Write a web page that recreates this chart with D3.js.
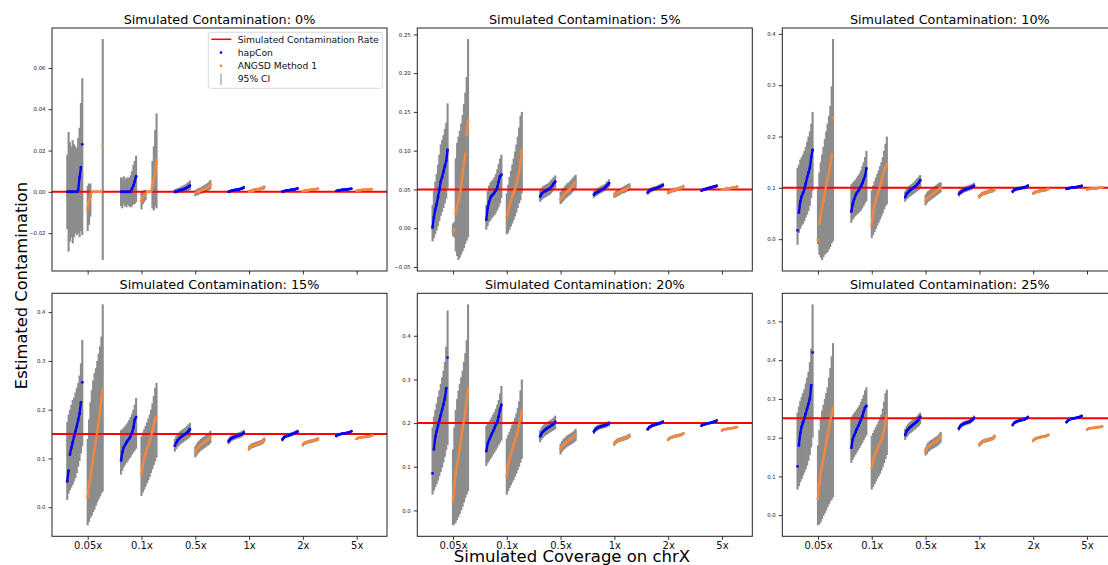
<!DOCTYPE html>
<html><head><meta charset="utf-8">
<script src="https://cdn.jsdelivr.net/npm/d3@7"></script>
<style>body{margin:0;background:#fff;}svg{display:block;}</style>
</head><body><svg id="c" width="1108" height="565"></svg>
<script>
// ---------------- data (values in percent) ----------------
const rates = [0, 5, 10, 15, 20, 25];
const coverages = ["0.05x", "0.1x", "0.5x", "1x", "2x", "5x"];
const yTicks = [
  [-0.02, 0, 0.02, 0.04, 0.06],
  [-0.05, 0, 0.05, 0.10, 0.15, 0.20, 0.25],
  [0, 0.1, 0.2, 0.3, 0.4],
  [0, 0.1, 0.2, 0.3, 0.4],
  [0, 0.1, 0.2, 0.3, 0.4],
  [0, 0.1, 0.2, 0.3, 0.4, 0.5]
];
const yTickLabels = [
  ["\u22120.02", "0.00", "0.02", "0.04", "0.06"],
  ["\u22120.05", "0.00", "0.05", "0.10", "0.15", "0.20", "0.25"],
  ["0.0", "0.1", "0.2", "0.3", "0.4"],
  ["0.0", "0.1", "0.2", "0.3", "0.4"],
  ["0.0", "0.1", "0.2", "0.3", "0.4"],
  ["0.0", "0.1", "0.2", "0.3", "0.4", "0.5"]
];
const legendLabels = ["Simulated Contamination Rate", "hapCon", "ANGSD Method 1", "95% CI"];

// hapCon estimates [panel][coverage][replicate sorted]
const hapEst = [
 [[0,0,0,0,0,0,0,0,0.1,0.7,1.2,2.3],[0,0,0,0,0,0,0,0,0.15,0.3,0.5,0.75],[0,0.02,0.04,0.06,0.08,0.1,0.12,0.14,0.17,0.2,0.25,0.3],[0,0.03,0.05,0.07,0.08,0.09,0.1,0.11,0.13,0.15,0.17,0.21],[0.01,0.03,0.05,0.06,0.07,0.08,0.09,0.1,0.11,0.12,0.14,0.16],[0.04,0.06,0.07,0.08,0.09,0.1,0.1,0.11,0.12,0.13,0.14,0.15]],
 [[0.1,1.4,2.4,3.1,4.0,5.0,6.0,6.6,7.3,8.0,8.7,10.1],[1.1,2.6,3.4,3.9,4.2,4.4,4.6,4.9,5.3,6.0,6.7,6.9],[4.1,4.4,4.6,4.7,4.8,4.9,5.0,5.1,5.3,5.5,5.8,6.0],[4.3,4.5,4.6,4.7,4.8,4.9,5.0,5.1,5.2,5.4,5.6,5.8],[4.6,4.8,4.9,5.0,5.05,5.1,5.15,5.2,5.3,5.35,5.45,5.55],[4.85,4.95,5.0,5.05,5.1,5.15,5.2,5.25,5.3,5.35,5.4,5.45]],
 [[1.7,5.2,7.3,8.3,9.0,9.8,10.8,12.0,13.0,13.9,16.0,17.4],[5.4,6.8,7.8,8.5,9.0,9.4,9.8,10.3,10.9,11.6,12.3,13.8],[8.2,8.8,9.1,9.4,9.6,9.8,10.0,10.2,10.4,10.7,11.0,11.5],[8.8,9.1,9.3,9.5,9.6,9.7,9.8,9.9,10.0,10.1,10.25,10.4],[9.3,9.6,9.7,9.8,9.85,9.9,9.95,10.0,10.05,10.1,10.2,10.4],[9.8,9.9,9.95,10.0,10.05,10.1,10.1,10.15,10.2,10.25,10.3,10.4]],
 [[5.3,7.5,10.8,12.2,13.3,14.5,15.6,16.6,17.9,19.2,21.5,25.6],[9.6,11.3,12.3,12.8,13.3,13.7,14.1,14.6,15.2,16.3,17.9,18.5],[12.6,13.2,13.7,14.0,14.3,14.5,14.7,14.9,15.1,15.3,15.6,16.0],[13.5,13.9,14.1,14.3,14.4,14.5,14.6,14.7,14.8,14.9,15.05,15.3],[13.9,14.3,14.5,14.6,14.7,14.8,14.9,15.0,15.1,15.2,15.35,15.5],[14.6,14.8,14.9,15.0,15.05,15.1,15.15,15.2,15.25,15.3,15.4,15.6]],
 [[8.5,14.0,16.8,18.1,19.4,20.6,21.8,23.1,24.3,25.6,28.0,35.0],[13.6,15.3,16.1,16.8,17.5,18.2,18.9,19.6,20.3,21.5,23.0,24.2],[17.0,17.6,18.0,18.3,18.6,18.8,19.0,19.2,19.4,19.6,19.9,20.3],[18.1,18.5,18.8,19.0,19.1,19.2,19.3,19.4,19.5,19.6,19.75,19.9],[18.6,19.0,19.2,19.4,19.5,19.6,19.7,19.8,19.9,20.0,20.1,20.3],[19.4,19.6,19.7,19.8,19.9,20.0,20.0,20.1,20.2,20.3,20.4,20.6]],
 [[12.6,18.0,21.2,22.8,24.0,25.0,26.2,27.5,28.8,30.0,33.5,42.0],[17.4,19.5,20.6,21.4,22.2,23.0,23.8,24.6,25.5,26.7,27.8,28.2],[20.7,21.6,22.1,22.5,22.8,23.1,23.4,23.7,24.0,24.3,24.7,25.4],[22.4,23.0,23.3,23.5,23.7,23.8,23.9,24.0,24.2,24.4,24.7,25.1],[23.3,23.8,24.0,24.2,24.3,24.4,24.5,24.6,24.7,24.8,25.0,25.3],[24.0,24.4,24.6,24.8,24.9,25.0,25.05,25.1,25.2,25.3,25.4,25.6]]
];
const hapLo = [
 [[-1.8,-2.9,-2.4,-2.2,-2.5,-2.2,-2.0,-2.1,-2.0,-2.2,-1.9,-2.1],[-0.7,-0.8,-0.6,-0.7,-0.75,-0.6,-0.7,-0.75,-0.7,-0.6,-0.6,-0.5],[-0.08,-0.08,-0.07,-0.06,-0.05,-0.04,-0.03,-0.02,0,0.02,0.05,0.08],[-0.05,-0.03,-0.01,0.01,0.02,0.03,0.04,0.05,0.06,0.08,0.1,0.13],[-0.03,-0.01,0.01,0.02,0.03,0.04,0.05,0.06,0.07,0.08,0.09,0.11],[0.01,0.03,0.04,0.05,0.06,0.07,0.07,0.08,0.09,0.1,0.11,0.12]],
 [[-1.7,-1.3,-0.8,-0.3,0.3,0.9,1.6,2.1,2.6,3.2,3.8,5.2],[-0.2,0.3,0.8,1.0,1.3,1.5,1.7,2.0,2.3,2.7,3.2,3.9],[3.4,3.6,3.8,3.9,4.0,4.1,4.2,4.3,4.5,4.7,4.9,5.2],[3.9,4.1,4.2,4.3,4.4,4.5,4.6,4.7,4.8,4.9,5.1,5.3],[4.3,4.5,4.6,4.7,4.75,4.8,4.85,4.9,5.0,5.05,5.15,5.25],[4.65,4.75,4.8,4.85,4.9,4.95,5.0,5.05,5.1,5.15,5.2,5.25]],
 [[-1.1,1.2,2.0,2.6,3.0,3.5,4.2,4.8,5.5,6.5,8.0,9.4],[3.2,3.8,4.2,4.5,4.8,5.0,5.3,5.6,6.0,6.5,7.0,7.4],[7.3,7.7,8.0,8.2,8.4,8.6,8.8,9.0,9.2,9.4,9.6,9.9],[8.3,8.6,8.8,9.0,9.1,9.2,9.3,9.4,9.5,9.6,9.75,9.9],[8.95,9.25,9.35,9.45,9.5,9.55,9.6,9.65,9.7,9.75,9.85,10.05],[9.6,9.7,9.75,9.8,9.85,9.9,9.9,9.95,10.0,10.05,10.1,10.2]],
 [[1.5,2.8,3.5,4.0,4.6,5.3,6.0,7.0,8.3,9.5,11.0,12.5],[6.7,7.5,8.2,8.7,9.1,9.5,9.9,10.3,10.8,11.2,11.6,12.0],[11.4,11.9,12.3,12.6,12.9,13.1,13.3,13.5,13.7,13.9,14.1,14.4],[12.9,13.3,13.5,13.7,13.8,13.9,14.0,14.1,14.2,14.3,14.45,14.7],[13.5,13.9,14.1,14.2,14.3,14.4,14.5,14.6,14.7,14.8,14.95,15.1],[14.35,14.55,14.65,14.75,14.8,14.85,14.9,14.95,15.0,15.05,15.15,15.35]],
 [[3.6,4.5,5.3,6.0,6.8,7.8,8.8,9.8,11.0,12.3,13.8,15.0],[10.2,10.8,11.3,11.8,12.3,12.8,13.3,13.8,14.4,15.0,15.5,16.0],[15.6,16.2,16.6,16.9,17.2,17.4,17.6,17.8,18.0,18.2,18.4,18.6],[17.5,17.9,18.2,18.4,18.5,18.6,18.7,18.8,18.9,19.0,19.15,19.3],[18.2,18.6,18.8,19.0,19.1,19.2,19.3,19.4,19.5,19.6,19.7,19.9],[19.15,19.35,19.45,19.55,19.65,19.75,19.75,19.85,19.95,20.05,20.15,20.35]],
 [[6.6,7.5,8.5,9.3,10.2,11.0,11.8,12.8,14.0,15.5,17.5,20.0],[13.5,14.3,15.0,15.6,16.2,16.8,17.4,18.0,18.6,19.3,20.0,20.6],[19.4,20.0,20.5,20.9,21.2,21.5,21.8,22.1,22.4,22.7,23.0,23.5],[21.8,22.4,22.7,22.9,23.1,23.2,23.3,23.4,23.6,23.8,24.1,24.5],[22.9,23.4,23.6,23.8,23.9,24.0,24.1,24.2,24.3,24.4,24.6,24.9],[23.75,24.15,24.35,24.55,24.65,24.75,24.8,24.85,24.95,25.05,25.15,25.35]]
];
const hapHi = [
 [[1.8,2.9,2.4,2.2,2.5,2.3,2.2,2.1,2.6,3.1,4.3,5.5],[0.7,0.65,0.75,0.6,0.7,0.65,0.7,0.8,1.0,1.3,1.5,1.75],[0.12,0.15,0.18,0.2,0.23,0.26,0.3,0.33,0.37,0.42,0.48,0.55],[0.06,0.09,0.11,0.13,0.14,0.15,0.16,0.18,0.2,0.22,0.25,0.29],[0.05,0.07,0.09,0.1,0.11,0.12,0.13,0.14,0.15,0.17,0.19,0.21],[0.07,0.09,0.1,0.11,0.12,0.13,0.13,0.14,0.15,0.16,0.17,0.18]],
 [[3.0,4.8,6.0,7.0,8.2,9.5,10.8,11.4,12.0,12.8,13.6,16.1],[3.0,4.8,5.5,5.9,6.1,6.3,6.6,7.0,7.6,8.3,9.0,9.5],[4.9,5.2,5.4,5.5,5.6,5.7,5.8,6.0,6.2,6.4,6.6,6.8],[4.8,5.0,5.1,5.2,5.3,5.4,5.5,5.6,5.7,5.9,6.1,6.3],[4.9,5.1,5.2,5.3,5.35,5.4,5.45,5.5,5.6,5.65,5.75,5.85],[5.05,5.15,5.2,5.25,5.3,5.35,5.4,5.45,5.5,5.55,5.6,5.65]],
 [[13.9,14.5,15.5,16.0,16.5,17.2,18.0,19.0,20.0,21.0,22.5,24.8],[10.7,11.0,11.3,11.6,12.0,12.4,12.8,13.4,14.2,15.0,16.0,17.2],[9.3,9.8,10.1,10.4,10.6,10.8,11.0,11.3,11.6,11.9,12.2,12.5],[9.4,9.7,9.9,10.1,10.2,10.3,10.4,10.5,10.6,10.7,10.85,11.0],[9.65,9.95,10.05,10.15,10.2,10.25,10.3,10.35,10.4,10.45,10.55,10.75],[10.0,10.1,10.15,10.2,10.25,10.3,10.3,10.35,10.4,10.45,10.5,10.6]],
 [[17.5,19.0,20.0,21.0,22.0,22.5,23.5,24.5,25.5,27.0,29.5,34.3],[15.8,16.0,16.3,16.6,17.0,17.4,17.9,18.5,19.2,20.0,21.0,22.4],[14.0,14.6,15.0,15.3,15.6,15.8,16.0,16.2,16.4,16.7,17.0,17.3],[14.1,14.5,14.7,14.9,15.0,15.1,15.2,15.3,15.4,15.5,15.65,15.9],[14.3,14.7,14.9,15.0,15.1,15.2,15.3,15.4,15.5,15.6,15.75,15.9],[14.85,15.05,15.15,15.25,15.3,15.35,15.4,15.45,15.5,15.55,15.65,15.85]],
 [[19.0,21.5,23.0,24.5,26.0,27.5,29.0,30.5,32.0,34.0,37.5,45.8],[19.4,19.8,20.3,20.8,21.4,22.0,22.6,23.3,24.2,25.3,26.8,28.5],[18.4,19.0,19.4,19.7,20.0,20.2,20.4,20.6,20.8,21.0,21.3,21.7],[18.7,19.1,19.4,19.6,19.7,19.8,19.9,20.0,20.1,20.2,20.35,20.5],[19.0,19.4,19.6,19.8,19.9,20.0,20.1,20.2,20.3,20.4,20.5,20.7],[19.65,19.85,19.95,20.05,20.15,20.25,20.25,20.35,20.45,20.55,20.65,20.85]],
 [[26.5,28.0,29.5,30.5,31.5,32.5,34.0,35.5,37.0,39.5,43.0,54.4],[25.3,25.8,26.3,26.8,27.3,27.8,28.4,29.2,30.0,31.0,32.2,33.0],[22.3,23.0,23.5,23.9,24.2,24.5,24.8,25.1,25.4,25.7,26.1,26.5],[23.0,23.6,23.9,24.1,24.3,24.4,24.5,24.6,24.8,25.0,25.3,25.7],[23.7,24.2,24.4,24.6,24.7,24.8,24.9,25.0,25.1,25.2,25.4,25.7],[24.25,24.65,24.85,25.05,25.15,25.25,25.3,25.35,25.45,25.55,25.65,25.85]]
];
// ANGSD Method 1 estimates
const angEst = [
 [[-0.8,-0.4,-0.25,0,0,0,0,0,0,0,0,2.2],[-0.45,-0.25,-0.18,-0.12,0,0,0,0,0.3,0.6,0.9,1.55],[-0.06,-0.02,0,0.03,0.06,0.09,0.12,0.15,0.19,0.23,0.29,0.36],[0,0.03,0.05,0.07,0.09,0.1,0.11,0.12,0.14,0.16,0.18,0.22],[0.03,0.05,0.06,0.07,0.08,0.09,0.1,0.1,0.11,0.12,0.13,0.15],[0.05,0.07,0.08,0.08,0.09,0.09,0.1,0.1,0.11,0.11,0.12,0.13]],
 [[-0.4,-0.2,1.9,2.8,3.5,4.4,5.4,7.0,8.4,9.6,12.0,13.9],[1.4,2.2,2.9,3.5,4.1,4.6,5.0,5.7,6.5,7.3,8.5,10.0],[3.7,4.0,4.2,4.4,4.6,4.8,4.9,5.1,5.3,5.5,5.8,5.9],[4.2,4.4,4.5,4.6,4.7,4.8,4.9,4.95,5.0,5.1,5.2,5.35],[4.6,4.7,4.8,4.85,4.9,4.95,5.0,5.05,5.1,5.15,5.2,5.35],[4.95,5.0,5.05,5.1,5.1,5.15,5.15,5.2,5.2,5.25,5.3,5.35]],
 [[-0.2,3.0,4.8,6.2,7.6,9.0,10.5,11.8,13.0,14.5,16.5,23.7],[2.9,5.3,6.6,7.6,8.5,9.4,10.3,11.2,12.3,13.4,14.0,14.6],[7.5,7.9,8.2,8.4,8.6,8.8,9.0,9.2,9.4,9.6,9.8,10.0],[8.3,8.6,8.8,8.9,9.0,9.1,9.2,9.3,9.4,9.45,9.55,9.7],[8.9,9.1,9.2,9.3,9.35,9.4,9.45,9.5,9.55,9.6,9.7,9.8],[9.7,9.75,9.8,9.8,9.85,9.85,9.9,9.9,9.95,10.0,10.05,10.1]],
 [[2.2,4.5,6.2,8.0,10.0,11.8,13.7,15.6,17.5,19.3,22.5,24.1],[6.7,8.6,10.0,11.0,12.0,12.7,13.5,14.4,15.7,16.9,18.2,18.6],[11.3,11.8,12.2,12.5,12.8,13.0,13.2,13.4,13.6,13.8,14.1,14.4],[12.1,12.4,12.6,12.7,12.8,12.9,13.0,13.1,13.2,13.3,13.5,13.8],[12.8,13.1,13.2,13.3,13.4,13.5,13.55,13.6,13.7,13.75,13.85,14.0],[14.0,14.2,14.25,14.3,14.35,14.4,14.4,14.45,14.5,14.55,14.6,14.7]],
 [[2.2,5.5,8.5,10.5,12.5,14.3,16.5,18.5,20.5,22.6,25.0,28.1],[8.0,10.6,11.7,12.8,14.0,15.0,16.0,17.0,18.2,19.6,20.9,22.8],[14.0,14.6,15.0,15.3,15.6,15.9,16.1,16.3,16.5,16.7,17.0,17.3],[15.3,15.7,15.9,16.1,16.2,16.3,16.4,16.5,16.6,16.7,16.85,17.1],[16.2,16.5,16.7,16.8,16.9,17.0,17.05,17.1,17.2,17.3,17.4,17.6],[18.3,18.5,18.6,18.6,18.7,18.7,18.8,18.8,18.9,18.9,19.0,19.1]],
 [[4.2,8.0,10.8,12.7,14.6,16.6,18.6,20.6,22.6,24.4,26.0,27.7],[12.2,14.2,15.3,16.2,17.0,17.8,18.6,19.4,20.4,22.0,24.3,25.6],[16.4,17.2,17.7,18.0,18.3,18.5,18.7,18.9,19.1,19.4,19.8,20.3],[18.2,18.6,18.9,19.1,19.2,19.3,19.4,19.5,19.6,19.7,19.9,20.3],[19.2,19.6,19.8,19.9,20.0,20.1,20.2,20.25,20.3,20.4,20.5,20.7],[22.1,22.3,22.4,22.45,22.5,22.55,22.6,22.65,22.7,22.75,22.8,22.9]]
];
const angLo = [
 [[-1.9,-1.6,-1.2,0,0,0,0,0,0,0,0,-3.3],[-0.85,-0.6,-0.5,-0.4,0,0,0,0,-0.8,-0.9,-0.7,-0.8],[-0.2,-0.18,-0.15,-0.12,-0.1,-0.08,-0.05,-0.02,0.01,0.04,0.08,0.12],[-0.06,-0.03,-0.01,0.01,0.02,0.03,0.04,0.05,0.06,0.08,0.1,0.12],[0,0.02,0.03,0.04,0.05,0.06,0.06,0.07,0.08,0.09,0.1,0.11],[0.03,0.05,0.06,0.06,0.07,0.07,0.08,0.08,0.09,0.09,0.1,0.11]],
 [[-1.0,-1.2,-3.0,-3.6,-4.1,-3.8,-3.4,-3.0,-2.6,-2.0,-1.6,-1.2],[-0.8,-0.6,-0.2,0.2,0.6,1.0,1.5,2.0,2.6,3.2,3.6,4.5],[3.1,3.3,3.5,3.7,3.9,4.0,4.2,4.3,4.5,4.7,4.9,5.1],[3.9,4.0,4.1,4.2,4.3,4.4,4.5,4.5,4.6,4.7,4.8,4.9],[4.35,4.45,4.55,4.6,4.65,4.7,4.75,4.8,4.85,4.9,4.95,5.1],[4.8,4.85,4.9,4.95,4.95,5.0,5.0,5.05,5.05,5.1,5.15,5.2]],
 [[-1.0,-3.0,-3.6,-4.05,-3.5,-3.0,-2.8,-2.5,-2.0,-1.5,-0.8,-0.4],[0.2,0.8,1.4,2.0,2.6,3.2,3.8,4.4,5.0,5.8,6.4,6.8],[6.6,7.0,7.3,7.5,7.7,7.9,8.1,8.3,8.5,8.7,8.9,9.1],[7.9,8.2,8.4,8.5,8.6,8.7,8.8,8.9,9.0,9.05,9.15,9.3],[8.6,8.8,8.9,9.0,9.05,9.1,9.15,9.2,9.25,9.3,9.4,9.5],[9.55,9.6,9.65,9.65,9.7,9.7,9.75,9.75,9.8,9.85,9.9,9.95]],
 [[-3.7,-3.0,-2.2,-1.7,-1.0,-0.5,0.3,1.0,1.6,2.2,2.8,3.2],[2.3,3.0,3.6,4.2,4.9,5.5,6.2,7.0,7.8,8.6,9.4,10.2],[10.2,10.6,11.0,11.3,11.6,11.8,12.0,12.2,12.4,12.6,12.8,13.1],[11.6,11.9,12.1,12.2,12.3,12.4,12.5,12.6,12.7,12.8,13.0,13.3],[12.45,12.75,12.85,12.95,13.05,13.15,13.2,13.25,13.35,13.4,13.5,13.65],[13.8,14.0,14.05,14.1,14.15,14.2,14.2,14.25,14.3,14.35,14.4,14.5]],
 [[-3.4,-3.2,-2.8,-2.2,-1.5,-0.8,0,0.8,1.8,2.8,3.6,4.4],[3.6,4.4,5.1,5.8,6.4,7.0,7.7,8.4,9.2,10.0,10.9,11.8],[12.8,13.4,13.8,14.1,14.4,14.6,14.8,15.0,15.2,15.4,15.6,15.9],[14.8,15.2,15.4,15.6,15.7,15.8,15.9,16.0,16.1,16.2,16.35,16.6],[15.85,16.15,16.35,16.45,16.55,16.65,16.7,16.75,16.85,16.95,17.05,17.25],[18.1,18.3,18.4,18.4,18.5,18.5,18.6,18.6,18.7,18.7,18.8,18.9]],
 [[-2.6,-2.4,-1.8,-1.0,-0.2,0.5,1.2,2.0,2.8,3.5,4.0,4.6],[6.6,7.3,8.0,8.7,9.4,10.0,10.7,11.5,12.4,13.4,14.5,15.5],[15.4,15.8,16.3,16.6,16.9,17.1,17.3,17.5,17.7,18.0,18.3,18.7],[17.7,18.1,18.4,18.6,18.7,18.8,18.9,19.0,19.1,19.2,19.4,19.8],[18.85,19.25,19.45,19.55,19.65,19.75,19.85,19.9,19.95,20.05,20.15,20.35],[21.9,22.1,22.2,22.25,22.3,22.35,22.4,22.45,22.5,22.55,22.6,22.7]]
];
const angHi = [
 [[0.3,0.4,0.4,0,0,0,0,0,0,0,0,7.4],[0,0.05,0.08,0.1,0,0,0,0,1.5,2.2,3.0,3.8],[0.08,0.13,0.16,0.19,0.22,0.26,0.3,0.34,0.38,0.43,0.49,0.57],[0.08,0.11,0.13,0.15,0.17,0.18,0.19,0.2,0.22,0.25,0.27,0.31],[0.07,0.09,0.1,0.11,0.12,0.13,0.14,0.14,0.15,0.16,0.17,0.2],[0.07,0.09,0.1,0.1,0.11,0.11,0.12,0.12,0.13,0.13,0.14,0.15]],
 [[0.6,0.8,9.0,11.0,11.8,12.6,13.5,14.6,16.0,17.5,19.5,24.4],[4.5,5.6,6.6,7.4,8.2,9.0,9.9,10.8,11.8,13.0,14.5,15.0],[4.7,5.0,5.2,5.4,5.6,5.8,5.9,6.1,6.3,6.5,6.7,6.9],[4.6,4.8,4.9,5.0,5.1,5.2,5.3,5.4,5.5,5.6,5.7,5.8],[4.85,4.95,5.05,5.1,5.15,5.2,5.25,5.3,5.35,5.4,5.45,5.6],[5.1,5.15,5.2,5.25,5.25,5.3,5.3,5.35,5.35,5.4,5.45,5.5]],
 [[10.0,13.0,15.0,16.5,18.0,19.5,21.0,22.5,24.0,26.0,29.8,39.0],[9.5,10.5,11.3,12.0,12.7,13.4,14.2,15.0,16.0,17.2,18.6,20.0],[8.7,9.1,9.4,9.6,9.8,10.0,10.2,10.4,10.6,10.8,11.0,11.1],[8.7,9.0,9.2,9.3,9.4,9.5,9.6,9.7,9.8,9.85,9.95,10.1],[9.2,9.4,9.5,9.6,9.65,9.7,9.75,9.8,9.85,9.9,10.0,10.1],[9.85,9.9,9.95,9.95,10.0,10.0,10.05,10.05,10.1,10.15,10.2,10.25]],
 [[14.0,18.0,21.5,24.0,26.0,27.5,28.5,30.0,31.5,33.0,35.0,41.6],[14.5,15.3,16.0,16.7,17.4,18.2,19.0,20.0,21.3,22.8,24.5,25.5],[12.5,13.0,13.4,13.7,14.0,14.2,14.4,14.6,14.8,15.0,15.3,15.7],[12.6,12.9,13.1,13.2,13.3,13.4,13.5,13.6,13.7,13.8,14.0,14.3],[13.15,13.45,13.55,13.65,13.75,13.85,13.9,13.95,14.05,14.1,14.2,14.35],[14.2,14.4,14.45,14.5,14.55,14.6,14.6,14.65,14.7,14.75,14.8,14.9]],
 [[14.0,19.0,23.0,25.5,27.5,29.0,30.5,32.0,34.0,36.0,39.0,47.2],[16.5,17.3,18.0,18.8,19.6,20.4,21.2,22.2,23.5,25.0,27.5,30.0],[15.3,15.9,16.3,16.6,16.9,17.2,17.4,17.6,17.8,18.0,18.3,18.7],[15.8,16.2,16.4,16.6,16.7,16.8,16.9,17.0,17.1,17.2,17.35,17.6],[16.55,16.85,17.05,17.15,17.25,17.35,17.4,17.45,17.55,17.65,17.75,17.95],[18.5,18.7,18.8,18.8,18.9,18.9,19.0,19.0,19.1,19.1,19.2,19.3]],
 [[18.0,22.0,25.0,27.0,28.5,30.0,31.5,33.0,35.5,38.0,41.0,44.4],[20.5,21.2,22.0,22.7,23.4,24.2,25.0,26.0,27.5,29.3,31.5,32.4],[17.5,18.3,18.8,19.1,19.4,19.6,19.8,20.1,20.3,20.6,21.0,21.5],[18.7,19.1,19.4,19.6,19.7,19.8,19.9,20.0,20.1,20.2,20.4,20.8],[19.55,19.95,20.15,20.25,20.35,20.45,20.55,20.6,20.65,20.75,20.85,21.05],[22.3,22.5,22.6,22.65,22.7,22.75,22.8,22.85,22.9,22.95,23.0,23.1]]
];

// ---------------- layout ----------------
const FONT = "'DejaVu Sans', sans-serif";
const svg = d3.select("#c").attr("font-family", FONT);
const pw = 335, ph = 243;
const lefts = [52, 417.3, 782.3], tops = [28, 293.3];
const hapOff = [-0.38, -0.10], angOff = [0.0, 0.28];
const COL = { hap: "#0000ff", ang: "#f5873f", ci: "#8c8c8c", rate: "#ff0000" };

const xExt = [hapOff[0], coverages.length - 1 + angOff[1]];
const xPad = (xExt[1] - xExt[0]) * 0.05;
const x = d3.scaleLinear().domain([xExt[0] - xPad, xExt[1] + xPad]).range([0, pw]);

rates.forEach((rate, p) => {
  const row = Math.floor(p / 3), col = p % 3;
  const g = svg.append("g").attr("transform", `translate(${lefts[col]},${tops[row]})`);

  const lo = d3.min([...hapLo[p].flat(), ...angLo[p].flat()]);
  const hi = d3.max([...hapHi[p].flat(), ...angHi[p].flat()]);
  const pad = (hi - lo) * 0.05;
  const y = d3.scaleLinear().domain([(lo - pad) / 100, (hi + pad) / 100]).range([ph, 0]);

  const pts = [], clusters = [];
  [["hap", hapEst, hapLo, hapHi, hapOff], ["ang", angEst, angLo, angHi, angOff]].forEach(([m, E, L, U, off]) => {
    coverages.forEach((cv, c) => {
      const n = E[p][c].length, cl = [];
      E[p][c].forEach((e, j) => {
        const d = { m, xv: c + off[0] + (off[1] - off[0]) * j / (n - 1),
                    est: e / 100, lo: L[p][c][j] / 100, hi: U[p][c][j] / 100 };
        pts.push(d); cl.push(d);
      });
      clusters.push(cl);
    });
  });

  // CI bars
  g.append("g").selectAll("line").data(pts.filter(d => d.hi > d.lo)).join("line")
    .attr("x1", d => x(d.xv)).attr("x2", d => x(d.xv))
    .attr("y1", d => y(d.lo)).attr("y2", d => y(d.hi))
    .attr("stroke", COL.ci).attr("stroke-width", 2.1);

  // simulated rate
  g.append("line").attr("x1", 0).attr("x2", pw)
    .attr("y1", y(rate / 100)).attr("y2", y(rate / 100))
    .attr("stroke", COL.rate).attr("stroke-width", 2);

  // dense runs of replicate markers (adjacent markers that touch)
  const links = [];
  clusters.forEach(cl => {
    for (let j = 1; j < cl.length; j++) {
      const a = cl[j - 1], b = cl[j];
      if (Math.abs(y(a.est) - y(b.est)) < 16) links.push([a, b]);
    }
  });
  g.append("g").selectAll("line").data(links).join("line")
    .attr("x1", d => x(d[0].xv)).attr("y1", d => y(d[0].est))
    .attr("x2", d => x(d[1].xv)).attr("y2", d => y(d[1].est))
    .attr("stroke", d => COL[d[0].m]).attr("stroke-width", 2.3).attr("stroke-linecap", "round");

  // points
  g.append("g").selectAll("circle").data(pts).join("circle")
    .attr("cx", d => x(d.xv)).attr("cy", d => y(d.est)).attr("r", 1.35)
    .attr("fill", d => COL[d.m]);

  // axes
  const xa = g.append("g").attr("transform", `translate(0,${ph})`)
    .call(d3.axisBottom(x).tickValues(d3.range(coverages.length)).tickSize(3.5).tickPadding(2.4)
      .tickFormat(i => row === 1 ? coverages[i] : ""));
  xa.attr("font-family", FONT).attr("font-size", 10);
  xa.select(".domain").remove();
  xa.selectAll(".tick line").attr("stroke", "#000").attr("stroke-width", 0.8);
  xa.selectAll(".tick text").attr("fill", "#111");

  const ya = g.append("g")
    .call(d3.axisLeft(y).tickValues(yTicks[p]).tickSize(3.5).tickPadding(3)
      .tickFormat(d => yTickLabels[p][yTicks[p].indexOf(d)]));
  ya.attr("font-family", FONT).attr("font-size", 5.4);
  ya.select(".domain").remove();
  ya.selectAll(".tick line").attr("stroke", "#000").attr("stroke-width", 0.8);
  ya.selectAll(".tick text").attr("fill", "#222");

  // frame
  g.append("rect").attr("width", pw).attr("height", ph)
    .attr("fill", "none").attr("stroke", "#222").attr("stroke-width", 1);

  // title
  g.append("text").attr("x", pw / 2).attr("y", -4.5).attr("text-anchor", "middle")
    .attr("font-size", 12.8).attr("fill", "#000")
    .text(`Simulated Contamination: ${rate}%`);

  // legend in first panel
  if (p === 0) {
    const lg = g.append("g").attr("transform", "translate(156.3,4.3)");
    lg.append("rect").attr("width", 174).attr("height", 56).attr("rx", 2.5)
      .attr("fill", "#fff").attr("fill-opacity", 0.8).attr("stroke", "#d0d0d0").attr("stroke-width", 0.8);
    const rowY = i => 7 + i * 13.3;
    lg.append("line").attr("x1", 3).attr("x2", 23).attr("y1", rowY(0)).attr("y2", rowY(0))
      .attr("stroke", COL.rate).attr("stroke-width", 1.5);
    lg.append("circle").attr("cx", 12.7).attr("cy", rowY(1)).attr("r", 1.3).attr("fill", COL.hap);
    lg.append("circle").attr("cx", 12.7).attr("cy", rowY(2)).attr("r", 1.3).attr("fill", COL.ang);
    lg.append("line").attr("x1", 12.7).attr("x2", 12.7).attr("y1", rowY(3) - 5.5).attr("y2", rowY(3) + 5.5)
      .attr("stroke", COL.ci).attr("stroke-opacity", 0.6).attr("stroke-width", 1.8);
    legendLabels.forEach((t, i) => {
      lg.append("text").attr("x", 29.4).attr("y", rowY(i) + 3.3).attr("font-size", 9.2)
        .attr("fill", "#111").text(t);
    });
  }
});

// shared axis labels
svg.append("text").attr("transform", "translate(27,285.5) rotate(-90)")
  .attr("text-anchor", "middle").attr("font-size", 16.3).attr("fill", "#000")
  .text("Estimated Contamination");
svg.append("text").attr("x", 572).attr("y", 561.5).attr("text-anchor", "middle")
  .attr("font-size", 16.5).attr("fill", "#000").text("Simulated Coverage on chrX");
</script>
</body></html>
